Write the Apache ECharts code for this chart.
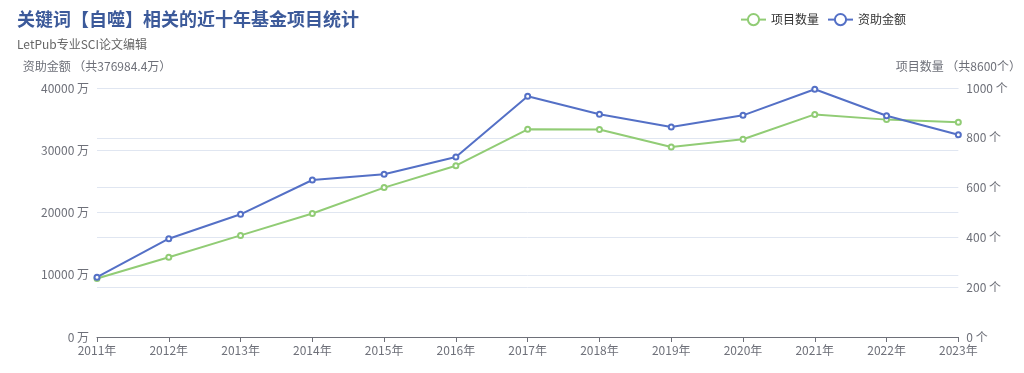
<!DOCTYPE html>
<html><head><meta charset="utf-8">
<script src="https://cdn.jsdelivr.net/npm/echarts@6/dist/echarts.min.js"></script>
<style>html,body{margin:0;padding:0;background:#fff}#c{width:1024px;height:373px}</style>
</head><body><div id="c"></div>
<script>
const years = ['2011年','2012年','2013年','2014年','2015年','2016年','2017年','2018年','2019年','2020年','2021年','2022年','2023年'];
const projectCounts = [235, 320, 408, 496, 600, 688, 834, 833, 763, 794, 894, 873, 862];
const funding = [9600, 15790, 19710, 25220, 26140, 28920, 38670, 35770, 33730, 35610, 39790, 35550, 32500];
const titleText = '关键词【自噬】相关的近十年基金项目统计';
const subText = 'LetPub专业SCI论文编辑';
const leftAxisName = '资助金额 （共376984.4万）';
const rightAxisName = '项目数量 （共8600个）';

const chart = echarts.init(document.getElementById('c'));
chart.setOption({
  animation: false,
  textStyle: {fontFamily: '"Noto Sans CJK SC", sans-serif'},
  title: {
    text: titleText, subtext: subText, left: 12, top: 5,
    textStyle: {fontSize: 18, fontWeight: 'bold', color: '#3c5a9a'},
    subtextStyle: {fontSize: 12, color: '#666'}, itemGap: 10
  },
  legend: {
    data: ['项目数量','资助金额'], top: 8, left: 735,
    textStyle: {fontSize: 12, color: '#333'}
  },
  grid: {left: 97, right: 63, top: 88, bottom: 36},
  xAxis: {
    type: 'category', data: years, boundaryGap: false,
    axisLine: {lineStyle: {color: '#6e7079'}},
    axisLabel: {color: '#6e7079', fontSize: 12, margin: 7}
  },
  yAxis: [
    {type: 'value', name: leftAxisName, min: 0, max: 40000, interval: 10000,
     nameTextStyle: {color: '#6e7079', fontSize: 12, align: 'center'},
     nameGap: 16,
     axisLabel: {formatter: v => v + ' 万', color: '#6e7079', fontSize: 12},
     splitLine: {lineStyle: {color: '#e0e6f1'}}},
    {type: 'value', name: rightAxisName, min: 0, max: 1000, interval: 200,
     nameTextStyle: {color: '#6e7079', fontSize: 12, align: 'center'},
     nameGap: 16,
     axisLabel: {formatter: v => v + ' 个', color: '#6e7079', fontSize: 12},
     splitLine: {lineStyle: {color: '#e0e6f1'}}}
  ],
  series: [
    {name: '项目数量', type: 'line', yAxisIndex: 1, data: projectCounts,
     color: '#91cc75', symbol: 'emptyCircle', symbolSize: 5, lineStyle: {width: 2}},
    {name: '资助金额', type: 'line', yAxisIndex: 0, data: funding,
     color: '#5470c6', symbol: 'emptyCircle', symbolSize: 5, lineStyle: {width: 2}}
  ]
});
</script></body></html>
